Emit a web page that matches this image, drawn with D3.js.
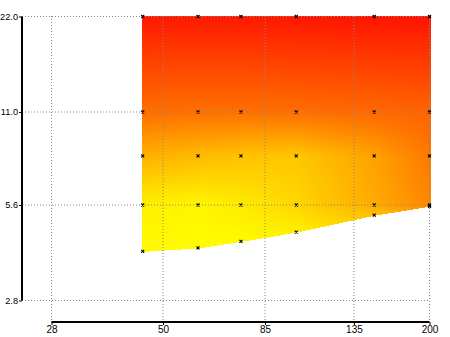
<!DOCTYPE html>
<html>
<head>
<meta charset="utf-8">
<script src="https://cdn.jsdelivr.net/npm/d3@7"></script>
<style>
  body { margin: 0; background: #fff; }
  svg { display: block; font-family: "Liberation Sans", Arial, sans-serif; }
</style>
</head>
<body>
<svg width="450" height="337"></svg>
<script>
// sample grid (log x / log y)
const xVals = [45, 60, 75, 100, 150, 200];
const yBottom = [4.0, 4.1, 4.3, 4.6, 5.2, 5.55];
const yLevels = [5.6, 8, 11, 22];
// values on each row, bottom row first
const zBottom = [2, 1, 2, 6, 24, 46];
const z56 = [6, 4, 8, 16, 33, 47];
const z8 = [31, 27, 24, 22, 37, 53];
const z11 = [57, 56, 56, 57, 59, 61];
const z22 = [90, 90, 90, 91, 92, 92];

const xTicks = [28, 50, 85, 135, 200];
const yTicks = [2.8, 5.6, 11.0, 22.0];

window.onload = function() {
    const svg = d3.select("svg");

    const x = d3.scaleLog().domain([28, 200]).range([51.5, 429.5]);
    const y = d3.scaleLog().domain([2.8, 22]).range([300.5, 16.5]);
    const color = d3.scaleLinear().domain([0, 100]).range(["#ffff00", "#ff0000"]);

    const zRows = [zBottom, z56, z8, z11, z22];

    // paint the interpolated field into a canvas, then drop it into the svg
    const canvas = document.createElement("canvas");
    canvas.width = 450;
    canvas.height = 337;
    const ctx = canvas.getContext("2d");
    const img = ctx.createImageData(450, 337);
    const px0 = x(xVals[0]), px1 = x(xVals[xVals.length - 1]);
    for (let px = Math.floor(px0); px <= Math.ceil(px1); px++) {
        const cx = Math.min(Math.max(px, px0), px1);
        let i = 0;
        while (i < xVals.length - 2 && cx > x(xVals[i + 1])) i++;
        const s = (cx - x(xVals[i])) / (x(xVals[i + 1]) - x(xVals[i]));
        const rowY = [], rowZ = [];
        rowY.push(y(yBottom[i]) + s * (y(yBottom[i + 1]) - y(yBottom[i])));
        yLevels.forEach(function(v) { rowY.push(y(v)); });
        zRows.forEach(function(r) { rowZ.push(r[i] + s * (r[i + 1] - r[i])); });
        for (let py = Math.floor(rowY[4]); py <= Math.floor(rowY[0]); py++) {
            const cy = Math.min(Math.max(py + 0.5, rowY[4]), rowY[0]);
            let j = 0;
            while (j < 3 && cy < rowY[j + 1]) j++;
            const h = rowY[j] - rowY[j + 1];
            const t = h > 0 ? (rowY[j] - cy) / h : 1;
            const z = rowZ[j] + t * (rowZ[j + 1] - rowZ[j]);
            const c = d3.rgb(color(z));
            const k = (py * 450 + px) * 4;
            img.data[k] = c.r;
            img.data[k + 1] = c.g;
            img.data[k + 2] = c.b;
            img.data[k + 3] = 255;
        }
    }
    ctx.putImageData(img, 0, 0);
    svg.append("image")
        .attr("x", 0).attr("y", 0)
        .attr("width", 450).attr("height", 337)
        .attr("href", canvas.toDataURL());

    // dotted grid
    svg.selectAll(".hgrid")
        .data(yTicks)
        .join("line")
        .attr("x1", 22).attr("x2", 429.5)
        .attr("y1", d => y(d)).attr("y2", d => y(d))
        .attr("stroke", "#888")
        .attr("stroke-dasharray", "1,2");
    svg.selectAll(".vgrid")
        .data(xTicks)
        .join("line")
        .attr("x1", d => x(d)).attr("x2", d => x(d))
        .attr("y1", 16).attr("y2", 322)
        .attr("stroke", "#888")
        .attr("stroke-dasharray", "1,2");

    // sample markers
    const pts = [];
    xVals.forEach(function(xv, i) {
        pts.push([xv, yBottom[i]]);
        yLevels.forEach(function(yv) { pts.push([xv, yv]); });
    });
    svg.selectAll(".mark")
        .data(pts)
        .join("path")
        .attr("transform", d => "translate(" + x(d[0]) + "," + y(d[1]) + ")")
        .attr("d", "M-1.5,-1.5L1.5,1.5M-1.5,1.5L1.5,-1.5")
        .attr("stroke", "#000")
        .attr("stroke-width", 1.1);

    // axes, detached from the plot area
    svg.append("g")
        .attr("transform", "translate(22,0)")
        .call(d3.axisLeft(y).tickValues(yTicks).tickFormat(d3.format(".1f"))
            .tickSize(3).tickPadding(1))
        .call(g => g.select(".domain").attr("d", "M0," + y(22) + "V" + y(2.8)).attr("stroke-width", 2))
        .call(g => g.selectAll("text").attr("font-size", 9.2).attr("fill", "#000")
            .style("font-family", "Liberation Sans, Arial, sans-serif"));

    svg.append("g")
        .attr("transform", "translate(0,322)")
        .call(d3.axisBottom(x).tickValues(xTicks).tickFormat(d3.format("d"))
            .tickSize(3).tickPadding(1))
        .call(g => g.select(".domain").attr("d", "M" + x(28) + ",0H" + x(200)).attr("stroke-width", 2))
        .call(g => g.selectAll("text").attr("font-size", 10).attr("fill", "#000")
            .style("font-family", "Liberation Sans, Arial, sans-serif"));
};
</script>
</body>
</html>
